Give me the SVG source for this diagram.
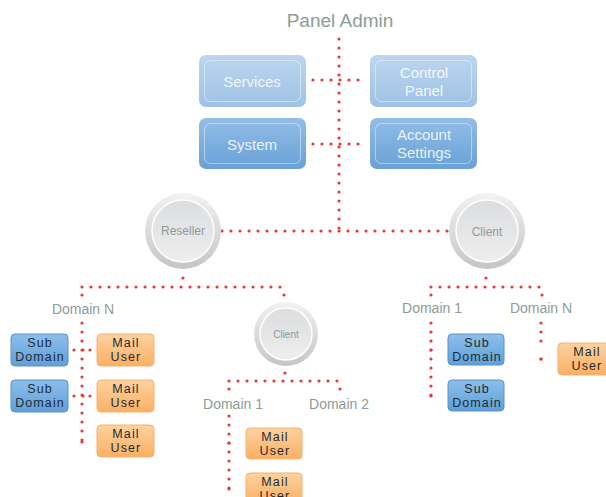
<svg xmlns="http://www.w3.org/2000/svg" width="606" height="497" viewBox="0 0 606 497">
<defs>
<linearGradient id="gTop" x1="0" y1="0" x2="0" y2="1"><stop offset="0" stop-color="#bcd6ef"/><stop offset="1" stop-color="#9fc2e6"/></linearGradient>
<linearGradient id="gBot" x1="0" y1="0" x2="0" y2="1"><stop offset="0" stop-color="#93bde6"/><stop offset="1" stop-color="#68a1d8"/></linearGradient>
<linearGradient id="gSub" x1="0" y1="0" x2="0" y2="1"><stop offset="0" stop-color="#8dbfea"/><stop offset="1" stop-color="#5f9fd9"/></linearGradient>
<linearGradient id="gMail" x1="0" y1="0" x2="0" y2="1"><stop offset="0" stop-color="#fdd29f"/><stop offset="1" stop-color="#fab064"/></linearGradient>
<linearGradient id="gRing" x1="0" y1="0" x2="0" y2="1"><stop offset="0" stop-color="#f2f2f3"/><stop offset="1" stop-color="#c4c5c7"/></linearGradient>
<linearGradient id="gIn" x1="0" y1="0" x2="0" y2="1"><stop offset="0" stop-color="#dcdddf"/><stop offset="1" stop-color="#eeeeef"/></linearGradient>
</defs>
<style>
.dot{fill:none;stroke:#e8383a;stroke-width:3.2;stroke-linecap:round;stroke-dasharray:0 9}
.d{fill:#e8383a}
.lbl{font-family:"Liberation Sans",Arial,sans-serif;fill:#8d9c95}
.btxt{font-family:"Liberation Sans",Arial,sans-serif;fill:#ffffff;font-size:15px;text-anchor:middle;opacity:0.85}
.stxt{font-family:"Liberation Sans",Arial,sans-serif;fill:#1f2a33;font-size:12.5px;text-anchor:middle;letter-spacing:1.1px}
.sub{fill:url(#gSub);stroke:#5692cc;stroke-width:1}
.mail{fill:url(#gMail);stroke:#f4b070;stroke-width:1}
.inner{fill:none;stroke:#ffffff;stroke-opacity:0.45;stroke-width:1}
.ring{fill:url(#gRing)}
.cin{fill:url(#gIn);stroke:#ffffff;stroke-width:1.5}
</style>
<text x="340" y="27" class="lbl" font-size="19" text-anchor="middle">Panel Admin</text>
<g id="connectors">
<line class="dot" x1="339" y1="39" x2="339" y2="231"/>
<line class="dot" x1="313" y1="80" x2="365" y2="80"/>
<line class="dot" x1="313" y1="144" x2="365" y2="144"/>
<line class="dot" x1="222" y1="231" x2="448" y2="231"/>
<circle class="d" cx="183" cy="278" r="1.6"/>
<line class="dot" x1="82" y1="287" x2="284" y2="287"/>
<circle class="d" cx="284" cy="295" r="1.6"/>
<circle class="d" cx="82" cy="295" r="1.6"/>
<line class="dot" x1="82" y1="323" x2="82" y2="442"/>
<line class="dot" x1="74" y1="350" x2="91" y2="350"/>
<circle class="d" cx="90" cy="350" r="1.6"/>
<line class="dot" x1="74" y1="396" x2="91" y2="396"/>
<circle class="d" cx="90" cy="396" r="1.6"/>
<line class="dot" x1="82" y1="442" x2="91" y2="442"/>
<circle class="d" cx="285" cy="373" r="1.6"/>
<line class="dot" x1="229" y1="381" x2="340" y2="381"/>
<circle class="d" cx="229" cy="389" r="1.6"/>
<circle class="d" cx="340" cy="389" r="1.6"/>
<line class="dot" x1="229" y1="416" x2="229" y2="489"/>
<line class="dot" x1="229" y1="443" x2="238" y2="443"/>
<line class="dot" x1="229" y1="489" x2="238" y2="489"/>
<circle class="d" cx="486" cy="278" r="1.6"/>
<line class="dot" x1="431" y1="287" x2="542" y2="287"/>
<circle class="d" cx="431" cy="295" r="1.6"/>
<circle class="d" cx="542" cy="295" r="1.6"/>
<line class="dot" x1="431" y1="323" x2="431" y2="396"/>
<line class="dot" x1="431" y1="350" x2="440" y2="350"/>
<line class="dot" x1="431" y1="396" x2="440" y2="396"/>
<line class="dot" x1="541" y1="323" x2="541" y2="350"/>
<line class="dot" x1="541" y1="359" x2="550" y2="359"/>
<circle class="d" cx="541" cy="359" r="1.6"/>
</g>
<g id="services"><rect x="199" y="55" width="107" height="52" rx="7" fill="url(#gTop)"/><rect class="inner" x="204.5" y="60.5" width="96" height="41" rx="6"/><text class="btxt" x="252" y="87">Services</text></g>
<g id="control-panel"><rect x="370" y="55" width="107" height="52" rx="7" fill="url(#gTop)"/><rect class="inner" x="375.5" y="60.5" width="96" height="41" rx="6"/><text class="btxt" x="424" y="78">Control</text><text class="btxt" x="424" y="96">Panel</text></g>
<g id="system"><rect x="199" y="118" width="107" height="51" rx="7" fill="url(#gBot)"/><rect class="inner" x="204.5" y="123.5" width="96" height="40" rx="6"/><text class="btxt" x="252" y="150">System</text></g>
<g id="account-settings"><rect x="370" y="118" width="107" height="51" rx="7" fill="url(#gBot)"/><rect class="inner" x="375.5" y="123.5" width="96" height="40" rx="6"/><text class="btxt" x="424" y="140">Account</text><text class="btxt" x="424" y="158">Settings</text></g>
<g id="reseller"><circle class="ring" cx="183" cy="231" r="38"/><circle class="cin" cx="183" cy="231" r="31"/><text class="lbl" x="183" y="235" font-size="12" text-anchor="middle">Reseller</text></g>
<g id="client-top"><circle class="ring" cx="487" cy="231" r="38"/><circle class="cin" cx="487" cy="231" r="31"/><text class="lbl" x="487" y="236" font-size="12" text-anchor="middle">Client</text></g>
<g id="client-mid"><circle class="ring" cx="286" cy="334" r="32"/><circle class="cin" cx="286" cy="334" r="26"/><text class="lbl" x="286" y="338" font-size="10" text-anchor="middle">Client</text></g>
<g id="domain-n-left"><text class="lbl" x="83" y="314" font-size="14" text-anchor="middle">Domain N</text></g>
<g id="domain-1-mid"><text class="lbl" x="233" y="409" font-size="14" text-anchor="middle">Domain 1</text></g>
<g id="domain-2-mid"><text class="lbl" x="339" y="409" font-size="14" text-anchor="middle">Domain 2</text></g>
<g id="domain-1-right"><text class="lbl" x="432" y="313" font-size="14" text-anchor="middle">Domain 1</text></g>
<g id="domain-n-right"><text class="lbl" x="541" y="313" font-size="14" text-anchor="middle">Domain N</text></g>
<g id="sub1"><rect class="sub" x="11" y="334" width="57" height="32" rx="4"/><text class="stxt" x="40" y="347">Sub</text><text class="stxt" x="40" y="361">Domain</text></g>
<g id="sub2"><rect class="sub" x="11" y="380" width="57" height="32" rx="4"/><text class="stxt" x="40" y="393">Sub</text><text class="stxt" x="40" y="407">Domain</text></g>
<g id="mail1"><rect class="mail" x="97" y="334" width="57" height="32" rx="4"/><text class="stxt" x="126" y="347">Mail</text><text class="stxt" x="126" y="361">User</text></g>
<g id="mail2"><rect class="mail" x="97" y="380" width="57" height="32" rx="4"/><text class="stxt" x="126" y="393">Mail</text><text class="stxt" x="126" y="407">User</text></g>
<g id="mail3"><rect class="mail" x="97" y="425" width="57" height="32" rx="4"/><text class="stxt" x="126" y="438">Mail</text><text class="stxt" x="126" y="452">User</text></g>
<g id="mail4"><rect class="mail" x="246" y="428" width="56" height="31" rx="4"/><text class="stxt" x="275" y="441">Mail</text><text class="stxt" x="275" y="455">User</text></g>
<g id="mail5"><rect class="mail" x="246" y="473" width="56" height="31" rx="4"/><text class="stxt" x="275" y="486">Mail</text><text class="stxt" x="275" y="500">User</text></g>
<g id="sub3"><rect class="sub" x="448" y="334" width="56" height="31" rx="4"/><text class="stxt" x="477" y="347">Sub</text><text class="stxt" x="477" y="361">Domain</text></g>
<g id="sub4"><rect class="sub" x="448" y="380" width="56" height="31" rx="4"/><text class="stxt" x="477" y="393">Sub</text><text class="stxt" x="477" y="407">Domain</text></g>
<g id="mail6"><rect class="mail" x="558" y="343" width="57" height="32" rx="4"/><text class="stxt" x="587" y="356">Mail</text><text class="stxt" x="587" y="370">User</text></g>
</svg>
